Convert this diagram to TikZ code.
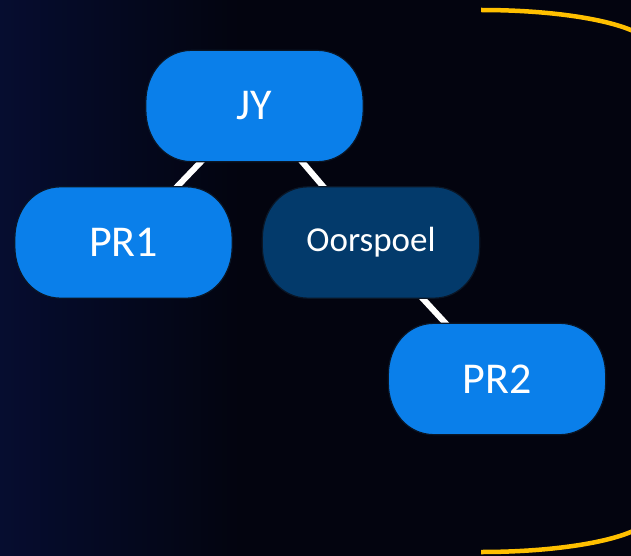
\documentclass[tikz,border=0pt]{standalone}
\usepackage{fontspec}
\setmainfont{Carlito}
\usetikzlibrary{backgrounds,calc}
\definecolor{bgdark}{HTML}{03040F}
\definecolor{bgglow}{HTML}{060D30}
\definecolor{capblue}{HTML}{0A7FEA}
\definecolor{capdark}{HTML}{033A6B}
\definecolor{capedge}{HTML}{0A1626}
\definecolor{goldline}{HTML}{FFC000}
\newcommand\capsule[2]{%
  \filldraw[fill=#2,draw=capedge,line width=1.2pt]
    ($(#1.north west)+(46,0)$) -- ($(#1.north east)+(-46,0)$)
    .. controls +(27,0) and +(0,-29) .. ($(#1.north east)+(0,52)$)
    -- ($(#1.south east)+(0,-52)$)
    .. controls +(0,29) and +(27,0) .. ($(#1.south east)+(-46,0)$)
    -- ($(#1.south west)+(46,0)$)
    .. controls +(-27,0) and +(0,29) .. ($(#1.south west)+(0,-52)$)
    -- ($(#1.north west)+(0,52)$)
    .. controls +(0,-29) and +(-27,0) .. cycle;}
\begin{document}
\begin{tikzpicture}[x=1pt,y=-1pt,
  capnode/.style={minimum width=217pt,minimum height=111pt,inner sep=0pt,text=white,font=\fontsize{44}{48}\selectfont},
  edge/.style={white,line width=6pt},
  curly/.style={draw=goldline,line width=4.5pt}]
\useasboundingbox (0,0) rectangle (631,556);
\node[capnode] (jy) at (254.5,106) {JY};
\node[capnode] (pr1) at (123.5,242.5) {PR1};
\node[capnode,font=\fontsize{35}{40}\selectfont] (oor) at (371,242.5) {Oorspoel};
\node[capnode] (pr2) at (497,379) {PR2};
\begin{scope}[on background layer]
  \fill[bgdark] (0,0) rectangle (631,556);
  \shade[left color=bgglow, right color=bgdark] (0,0) rectangle (240,556);
  \draw[edge] (jy.center) -- (pr1.center);
  \draw[edge] (jy.center) -- (oor.center);
  \draw[edge] (oor.center) -- (pr2.center);
  \capsule{jy}{capblue}
  \capsule{pr1}{capblue}
  \capsule{oor}{capdark}
  \capsule{pr2}{capblue}
\end{scope}
\begin{scope}
  \clip (0,0) rectangle (631,556);
  \draw[curly] (481,10) .. controls (575,10) and (651,27) .. (651,48)
    -- (651,514) .. controls (651,535) and (575,552) .. (481,552);
\end{scope}
\end{tikzpicture}
\end{document}
